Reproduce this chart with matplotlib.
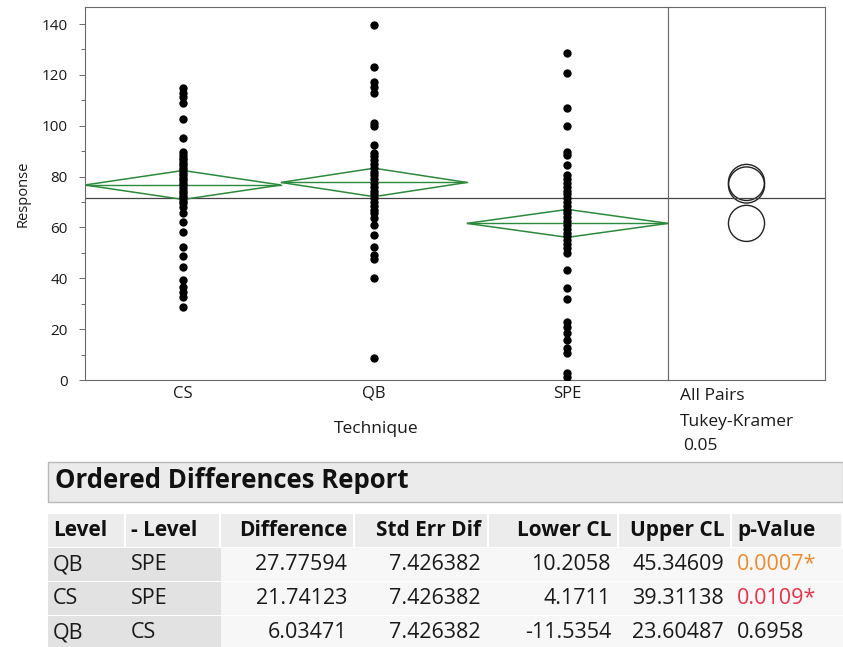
import matplotlib
matplotlib.use('Agg')
import matplotlib.pyplot as plt
from matplotlib.patches import Polygon, Circle, Rectangle
from matplotlib.ticker import MultipleLocator

plt.rcParams['font.family'] = ['Open Sans', 'DejaVu Sans']

# data
groups = ["CS", "QB", "SPE"]
group_n = [39, 37, 40]
cs_vals = [114.7, 113.0, 111.2, 109.0, 102.6, 95.3,
           89.5, 88.5, 87.5, 86.5, 85.5, 84.5, 83.5, 82.5, 81.5, 80.5, 79.5,
           78.5, 77.5, 76.5, 75.5, 74.5, 73.5, 72.5, 71.5, 70.5, 69.5,
           68.1, 65.6, 62.0, 58.3, 52.4, 48.8, 44.6, 39.3, 36.5, 34.6, 32.8, 28.8]
qb_vals = [139.6, 123.2, 117.3, 115.1, 112.7, 101.2, 99.9, 92.4,
           89.3, 88.0, 86.5, 85.0, 83.5, 82.0, 80.5, 79.0, 77.5, 76.0, 74.5,
           73.0, 71.5, 70.0, 68.5, 67.0, 65.7,
           63.6, 61.0, 57.0, 52.4, 49.2, 47.5, 40.0, 8.5]
spe_vals = [128.5, 120.6, 106.8, 99.9, 89.8, 88.5, 84.5,
            80.6, 79.0, 77.5, 76.0, 74.5, 73.0, 71.5, 70.0, 68.5, 67.0, 65.5,
            64.0, 62.5, 61.0, 59.5, 58.0, 56.5, 55.0, 53.5, 52.0, 49.9,
            43.3, 36.1, 31.7, 22.9, 21.0, 18.4, 15.7, 12.5, 10.5, 2.6, 1.3]
group_vals = [cs_vals, qb_vals, spe_vals]
group_means = [76.7, 77.7, 61.6]
ci_half = [5.7, 5.6, 5.5]
grand_mean = 71.6
tukey_radius = [7.1, 7.1, 7.1]

tbl_cols = ["Level", "- Level", "Difference", "Std Err Dif", "Lower CL", "Upper CL", "p-Value"]
level = ["QB", "CS", "QB"]
minus_level = ["SPE", "SPE", "CS"]
difference = [27.77594, 21.74123, 6.03471]
std_err = [7.426382, 7.426382, 7.426382]
lower_cl = [10.2058, 4.1711, -11.5354]
upper_cl = [45.34609, 39.31138, 23.60487]
p_value = [0.0007, 0.0109, 0.6958]
p_colors = ["#ee8a2c", "#e8334a", "#1a1a1a"]

W, H = 843, 647
fig = plt.figure(figsize=(W / 100, H / 100), dpi=100)


def fx(x):
    return x / W


def fy(y):
    return 1 - y / H


green = "#2c8a3c"
frame = "#6a6a6a"

# main panel
ax = fig.add_axes([fx(85), fy(380), fx(668 - 85), (380 - 7) / H])
total = sum(group_n)
edges = [sum(group_n[:i]) for i in range(len(group_n) + 1)]
centers = [(edges[i] + edges[i + 1]) / 2 for i in range(len(group_n))]

for i, vals in enumerate(group_vals):
    ax.plot([centers[i]] * len(vals), vals, 'o', color='black',
            markersize=6.0, markeredgewidth=0, zorder=3)
    x0, x1, xc = edges[i], edges[i + 1], centers[i]
    m, h = group_means[i], ci_half[i]
    ax.add_patch(Polygon([(x0, m), (xc, m + h), (x1, m), (xc, m - h)],
                         closed=True, fill=False, edgecolor=green, lw=1.1, zorder=2))
    ax.plot([x0, x1], [m, m], color=green, lw=1.0, zorder=2)

ax.axhline(grand_mean, color="#444444", lw=0.9, zorder=1)
ax.set_xlim(0, total)
ax.set_ylim(0, 146.7)
ax.yaxis.set_major_locator(MultipleLocator(20))
ax.yaxis.set_minor_locator(MultipleLocator(10))
ax.set_xticks(centers)
ax.set_xticklabels(groups)
ax.tick_params(axis='y', which='major', length=4, width=0.7, color=frame,
               labelsize=11, labelcolor='#1a1a1a', pad=8.5)
ax.tick_params(axis='y', which='minor', length=3, width=0.7, color=frame)
ax.tick_params(axis='x', length=0, labelsize=12, labelcolor='#1a1a1a', pad=4)
ax.set_ylabel("Response", fontsize=10.5, color='#1a1a1a', labelpad=8)
ax.set_xlabel("Technique", fontsize=12.5, color='#1a1a1a', labelpad=14)
for s in ax.spines.values():
    s.set_color(frame)
    s.set_linewidth(0.8)

# right panel: comparison circles
axr = fig.add_axes([fx(668), fy(380), fx(825 - 668), (380 - 7) / H])
axr.set_ylim(0, 146.7)
xr = (825 - 668) * 146.7 / (380 - 7)
axr.set_xlim(0, xr)
axr.axhline(grand_mean, color="#444444", lw=0.9)
for m, r in zip(group_means, tukey_radius):
    axr.add_patch(Circle((xr / 2, m), r, fill=False, edgecolor='#222222', lw=1.0))
axr.set_xticks([])
axr.set_yticks([])
for s in axr.spines.values():
    s.set_color(frame)
    s.set_linewidth(0.8)

fig.text(fx(680), fy(396), "All Pairs", fontsize=12.5, color='#1a1a1a', va='center')
fig.text(fx(680), fy(422), "Tukey-Kramer", fontsize=12.5, color='#1a1a1a', va='center')
fig.text(fx(683), fy(446), "0.05", fontsize=12.5, color='#1a1a1a', va='center')

# report table
tax = fig.add_axes([0, 0, 1, 1], zorder=-1)
tax.set_xlim(0, W)
tax.set_ylim(H, 0)
tax.axis('off')

tax.add_patch(Rectangle((48, 462), W - 48, 40, facecolor='#ebebeb',
                        edgecolor='#b8b8b8', lw=1.0))
tax.text(55, 481, "Ordered Differences Report", fontsize=18.5, fontweight='bold',
         color='#111111', va='center')

col_edges = [48, 126, 221, 355, 489, 619, 732, 843]
aligns = ['left', 'left', 'right', 'right', 'right', 'right', 'left']
row_top = [514, 548, 582, 616]
row_h = 33

for j in range(len(tbl_cols)):
    x0, x1 = col_edges[j], col_edges[j + 1]
    tax.add_patch(Rectangle((x0, row_top[0]), x1 - x0 - 2, row_h, facecolor='#ececec',
                            edgecolor='none'))
    tx = x0 + 5 if aligns[j] == 'left' else x1 - 8
    tax.text(tx, row_top[0] + row_h / 2, tbl_cols[j], fontsize=15, fontweight='bold',
             color='#111111', ha=aligns[j], va='center')

for i in range(len(level)):
    cells = [level[i], minus_level[i], f"{difference[i]:.5f}", f"{std_err[i]:.6f}",
             f"{lower_cl[i]:.4f}", f"{upper_cl[i]:.5f}",
             f"{p_value[i]:.4f}" + ("*" if p_value[i] < 0.05 else "")]
    y0 = row_top[i + 1]
    tax.add_patch(Rectangle((48, y0), col_edges[2] - 48, row_h, facecolor='#e2e2e2',
                            edgecolor='none'))
    tax.add_patch(Rectangle((col_edges[2], y0), W - col_edges[2], row_h,
                            facecolor='#f7f7f7', edgecolor='none'))
    for j, c in enumerate(cells):
        x0, x1 = col_edges[j], col_edges[j + 1]
        tx = x0 + 5 if aligns[j] == 'left' else x1 - 8
        color = p_colors[i] if j == 6 else '#1a1a1a'
        tax.text(tx, y0 + row_h / 2, c, fontsize=15.5, color=color,
                 ha=aligns[j], va='center')

fig.savefig("out.png", dpi=100)
